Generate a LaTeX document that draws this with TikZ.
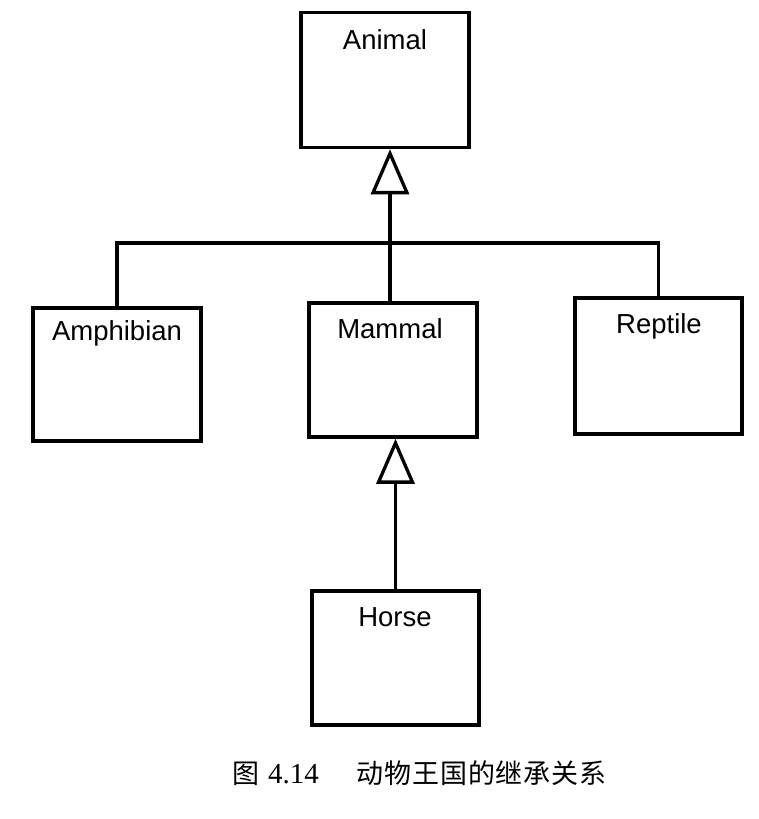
\documentclass[tikz,border=0pt]{standalone}
\usepackage{fontspec}
\setmainfont{Liberation Serif}
\newfontfamily\labelfont{Liberation Sans}
\newfontfamily\cjk{Noto Sans CJK SC}
\usetikzlibrary{arrows.meta}
\begin{document}
\begin{tikzpicture}[x=1pt,y=-1pt,
  box/.style={draw, line width=3.5pt, minimum width=168pt, minimum height=135pt, inner sep=0pt},
  lbl/.style={font=\labelfont\fontsize{27.5}{30}\selectfont, inner sep=0pt},
  conn/.style={line width=3.3pt},
  inh/.style={conn, -{Triangle[open, length=45pt, width=38pt, line width=3.3pt]}},
  captext/.style={font=\fontsize{27}{30}\selectfont, inner sep=0pt}]
\useasboundingbox (0,0) rectangle (759,819);
\fill[white] (0,0) rectangle (759,819);
% boxes
\node[box] (animal) at (385,80) {};
\node[box, minimum height=133pt] (amph) at (117,374.5) {};
\node[box, minimum height=134pt] (mammal) at (393,370) {};
\node[box, minimum width=167pt, minimum height=136pt] (reptile) at (658.5,366) {};
\node[box, minimum width=167pt, minimum height=134pt] (horse) at (395.5,658) {};
% labels
\node[lbl] (tanimal) at (385,40) {Animal};
\node[lbl] (tamph) at (117,333) {Amphibian};
\node[lbl] (tmammal) at (390,329) {Mammal};
\node[lbl] (treptile) at (659,326) {Reptile};
\node[lbl] (thorse) at (395,617) {Horse};
% connectors
\coordinate (j) at (390,243);
\draw[conn] (amph.north) |- (j) -| (reptile.north);
\draw[inh] (j |- mammal.north) -- (j |- animal.south);
\draw[inh] (horse.north) -- (horse.north |- mammal.south);
% caption
\node[captext, anchor=west] (caption) at (232,773) {{\cjk 图}\hspace{9pt}{\fontsize{29}{30}\selectfont 4.14}\hspace{38pt}{\cjk\addfontfeature{LetterSpace=3} 动物王国的继承关系}};
\end{tikzpicture}
\end{document}
